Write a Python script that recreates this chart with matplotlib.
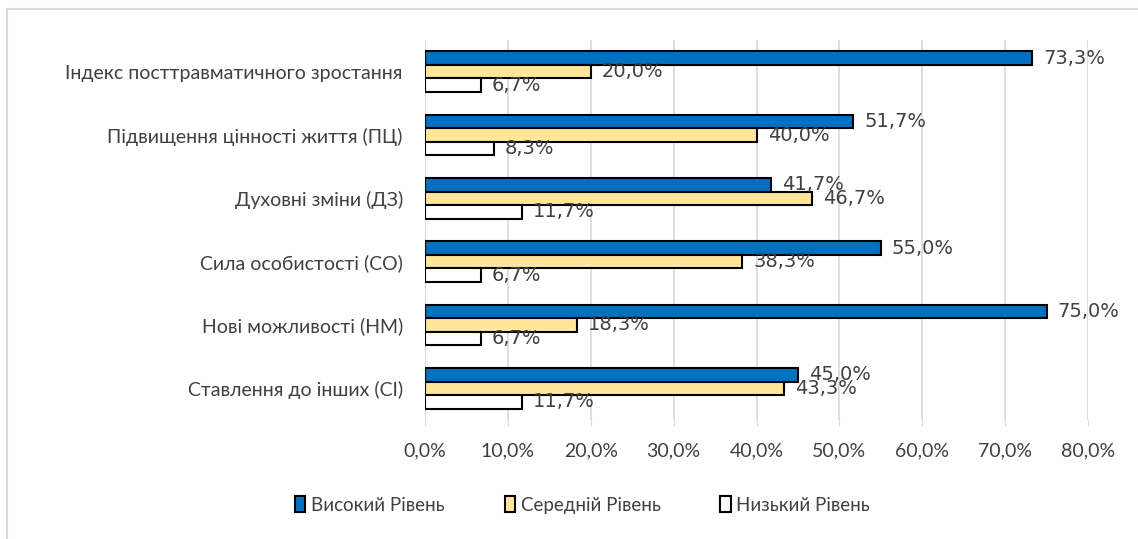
import numpy as np
import matplotlib.pyplot as plt

plt.rcParams['font.family'] = ['Lato', 'DejaVu Sans']

categories = ['Індекс посттравматичного зростання',
              'Підвищення цінності життя (ПЦ)',
              'Духовні зміни (ДЗ)',
              'Сила особистості (СО)',
              'Нові можливості (НМ)',
              'Ставлення до інших (СІ)']
high = [73.3, 51.7, 41.7, 55.0, 75.0, 45.0]
mid = [20.0, 40.0, 46.7, 38.3, 18.3, 43.3]
low = [6.7, 8.3, 11.7, 6.7, 6.7, 11.7]
series_names = ['Високий Рівень', 'Середній Рівень', 'Низький Рівень']
colors = ['#0070C0', '#FFE699', 'white']

fig = plt.figure(figsize=(11.38, 5.39), dpi=100)
ax = fig.add_axes([425 / 1138, 1 - 420 / 539, 663 / 1138, 380 / 539])

y = np.arange(len(categories))
h = 0.215
for i, (vals, name, c) in enumerate(zip([high, mid, low], series_names, colors)):
    pos = y + (i - 1) * h
    ax.barh(pos, vals, height=h, color=c, edgecolor='black',
            linewidth=1.5, label=name, zorder=3)
    for p, v in zip(pos, vals):
        ax.annotate(f'{v:.1f}%'.replace('.', ','), (v, p), xytext=(8, 0),
                    textcoords='offset points', va='center', ha='left',
                    fontsize=14, color='#404040', family='DejaVu Sans',
                    zorder=4, annotation_clip=False)

ax.set_ylim(len(categories) - 0.5, -0.5)
ax.set_yticks(y)
ax.set_yticklabels(categories, fontsize=14, color='#404040')
ax.set_xlim(0, 80)
ax.set_xticks(np.arange(0, 81, 10))
ax.set_xticklabels([f'{t},0%' for t in range(0, 81, 10)], fontsize=14,
                   color='#404040')
ax.tick_params(axis='x', length=4, color='#D9D9D9', pad=12)
ax.tick_params(axis='y', length=0, pad=16)
ax.grid(axis='x', color='#D9D9D9', linewidth=1.2, zorder=0)
for s in ['top', 'right', 'bottom']:
    ax.spines[s].set_visible(False)
ax.spines['left'].set_color('#D9D9D9')

fig.legend(loc='center', bbox_to_anchor=(0.512, 0.063), ncol=3, frameon=False,
           fontsize=13.5, handlelength=0.55, handleheight=0.9, handletextpad=0.3,
           columnspacing=3.2, labelcolor='#404040')

border = plt.Rectangle((7 / 1138, -0.1), 1.2, 1.1 - 9 / 539,
                       transform=fig.transFigure, fill=False,
                       edgecolor='#D9D9D9', linewidth=1.5)
fig.patches.append(border)

plt.savefig('out.png', dpi=100)
